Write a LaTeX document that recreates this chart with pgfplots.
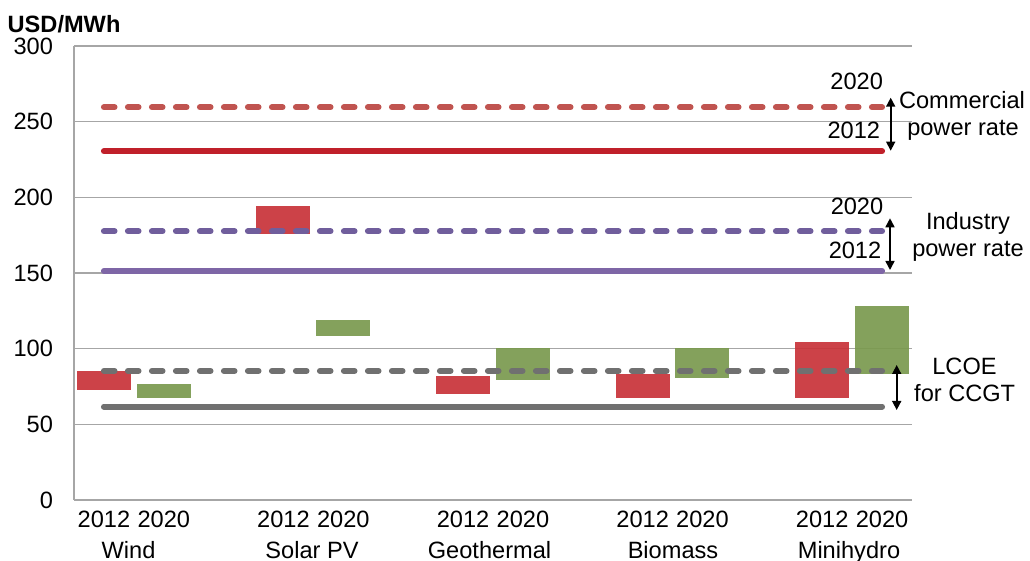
\documentclass[border=0pt]{standalone}
\usepackage{fontspec}
\setmainfont{Liberation Sans}
\usepackage{pgfplots}
\pgfplotsset{compat=1.18}
\usetikzlibrary{arrows.meta}
\definecolor{redsolid}{RGB}{192,32,42}
\definecolor{reddash}{RGB}{192,84,80}
\definecolor{barred}{RGB}{200,50,56}
\definecolor{bargreen}{RGB}{122,153,78}
\definecolor{purpsolid}{RGB}{126,102,166}
\definecolor{purpdash}{RGB}{112,94,156}
\definecolor{greyline}{RGB}{112,112,112}
\definecolor{gridgray}{RGB}{166,166,166}
\newcommand\fs{\fontsize{11.8}{14}\selectfont}
\begin{document}
\begin{tikzpicture}
\path[use as bounding box] (0,0) rectangle (515pt,280.5pt);
\begin{axis}[
  at={(37pt,30.5pt)}, anchor=south west,
  scale only axis, width=419pt, height=227pt,
  xmin=0.5, xmax=14.5, ymin=0, ymax=300,
  ytick={0,50,...,300},
  xtick={1,2,4,5,7,8,10,11,13,14},
  xticklabels={2012,2020,2012,2020,2012,2020,2012,2020,2012,2020},
  axis x line*=bottom, axis y line*=left,
  axis line style={draw=gridgray, line width=0.8pt, -},
  ymajorgrids, grid style={draw=gridgray, line width=0.6pt},
  major tick length=0pt,
  tick label style={font=\fs},
  /pgf/number format/assume math mode=true,
  yticklabel style={xshift=-7pt},
  xticklabel style={yshift=-2pt},
  clip=false,
]
% floating bars (low, high)
\addplot[draw=barred, draw opacity=0.92, line width=27pt, line cap=butt, unbounded coords=jump, mark=none]
  coordinates {(1,73) (1,85) (1,nan) (4,176) (4,194.3) (4,nan) (7,70.3) (7,82) (7,nan) (10,67.6) (10,83.3) (10,nan) (13,67.6) (13,104.4)};
\addplot[draw=bargreen, draw opacity=0.92, line width=27pt, line cap=butt, unbounded coords=jump, mark=none]
  coordinates {(2,67.6) (2,76.7) (2,nan) (5,108.6) (5,119) (5,nan) (8,79.5) (8,100.3) (8,nan) (11,80.8) (11,100.3) (11,nan) (14,83.5) (14,128.2)};
% reference lines
\addplot[draw=redsolid, line width=3pt, line cap=round, mark=none] coordinates {(1,230.5) (14,230.5)};
\addplot[draw=reddash, line width=3pt, line cap=round, dash pattern=on 5.3pt off 6.7pt, mark=none] coordinates {(1,259.5) (14,259.5)};
\addplot[draw=purpsolid, line width=3pt, line cap=round, mark=none] coordinates {(1,151.3) (14,151.3)};
\addplot[draw=purpdash, line width=3pt, line cap=round, dash pattern=on 5.3pt off 6.7pt, mark=none] coordinates {(1,177.6) (14,177.6)};
\addplot[draw=greyline, line width=3pt, line cap=round, mark=none] coordinates {(1,61.7) (14,61.7)};
\addplot[draw=greyline, line width=3pt, line cap=round, dash pattern=on 5.3pt off 6.7pt, mark=none] coordinates {(1,85.3) (14,85.3)};
\end{axis}
\begin{scope}[x=0.5pt, y=-0.5pt, yshift=280.5pt, font=\fs]
\node[anchor=base west, font=\fs\bfseries, inner sep=0pt] at (7.3,32.7) {USD/MWh};
\node[anchor=base, inner sep=0pt] at (128.5,558.4) {Wind};
\node[anchor=base, inner sep=0pt] at (312,558.4) {Solar PV};
\node[anchor=base, inner sep=0pt] at (489.5,558.4) {Geothermal};
\node[anchor=base, inner sep=0pt] at (673,558.4) {Biomass};
\node[anchor=base, inner sep=0pt] at (849,558.4) {Minihydro};
% commercial
\node[anchor=base, inner sep=0pt] at (856.7,89.3) {2020};
\node[anchor=base, inner sep=0pt] at (853.8,138.3) {2012};
\node[anchor=base, inner sep=0pt] at (962,108.3) {Commercial};
\node[anchor=base, inner sep=0pt] at (963,136) {power rate};
\draw[line width=0.8pt, {Triangle[length=4.5pt,width=4.5pt]}-{Triangle[length=4.5pt,width=4.5pt]}] (890.7,97.7) -- (890.7,150.7);
% industry
\node[anchor=base, inner sep=0pt] at (857,215) {2020};
\node[anchor=base, inner sep=0pt] at (855,258.4) {2012};
\node[anchor=base, inner sep=0pt] at (968,230) {Industry};
\node[anchor=base, inner sep=0pt] at (968,256.5) {power rate};
\draw[line width=0.8pt, {Triangle[length=4.5pt,width=4.5pt]}-{Triangle[length=4.5pt,width=4.5pt]}] (890,218.3) -- (890,270);
% LCOE
\node[anchor=base, inner sep=0pt] at (964.5,374.3) {LCOE};
\node[anchor=base, inner sep=0pt] at (964.7,401.7) {for CCGT};
\draw[line width=0.8pt, {Triangle[length=4.5pt,width=4.5pt]}-{Triangle[length=4.5pt,width=4.5pt]}] (896.7,365) -- (896.7,410);
\end{scope}
\end{tikzpicture}
\end{document}
